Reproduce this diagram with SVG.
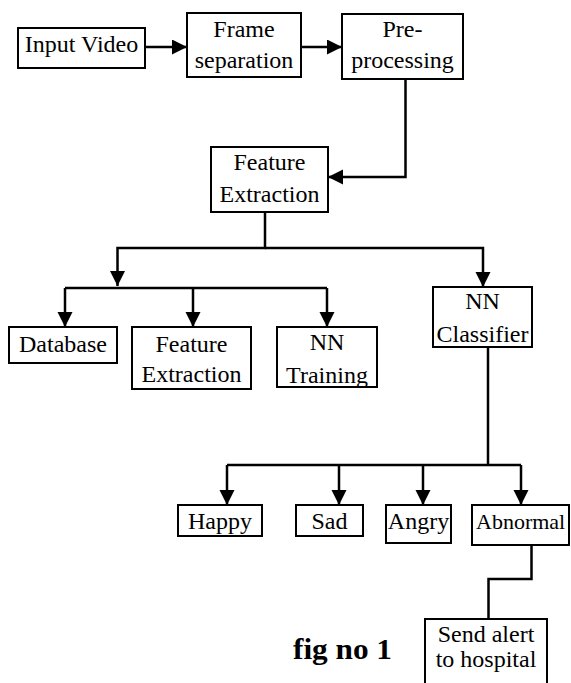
<svg xmlns="http://www.w3.org/2000/svg" width="571" height="683" viewBox="0 0 571 683">
<style>
.box{fill:#fff;stroke:#000;stroke-width:2}
.t{font-family:"Liberation Serif","Times New Roman",serif;font-size:24px;fill:#000;text-anchor:middle}
.c{fill:none;stroke:#000;stroke-width:2.5}
</style>
<defs>
<marker id="ah" markerUnits="userSpaceOnUse" markerWidth="16" markerHeight="16" refX="15" refY="7.5" orient="auto">
<path d="M0,0 L15,7.5 L0,15 z" fill="#000"/>
</marker>
</defs>
<rect width="571" height="683" fill="#fff"/>
<g id="connectors">
<path class="c" d="M145,47 H187" marker-end="url(#ah)"/>
<path class="c" d="M301,47 H342" marker-end="url(#ah)"/>
<path class="c" d="M405.5,79 V177 H328" marker-end="url(#ah)"/>
<path class="c" d="M265,212 V248 H117.5 V286" marker-end="url(#ah)"/>
<path class="c" d="M265,248 H483 V287" marker-end="url(#ah)"/>
<path class="c" d="M65,288 H327"/>
<path class="c" d="M65,288 V327" marker-end="url(#ah)"/>
<path class="c" d="M193,288 V327" marker-end="url(#ah)"/>
<path class="c" d="M327,288 V327" marker-end="url(#ah)"/>
<path class="c" d="M488,347 V465"/>
<path class="c" d="M227,465 H521"/>
<path class="c" d="M227,465 V505" marker-end="url(#ah)"/>
<path class="c" d="M339,465 V505" marker-end="url(#ah)"/>
<path class="c" d="M423,465 V505" marker-end="url(#ah)"/>
<path class="c" d="M521,465 V505" marker-end="url(#ah)"/>
<path class="c" d="M531.5,545 V579 H488.5 V619"/>
</g>
<g id="input-video"><rect class="box" x="18" y="28" width="127" height="40"/><text class="t" x="81.5" y="52">Input Video</text></g>
<g id="frame-separation"><rect class="box" x="187" y="13" width="114" height="64"/><text class="t" x="244" y="37">Frame</text><text class="t" x="244" y="68">separation</text></g>
<g id="pre-processing"><rect class="box" x="342" y="14" width="121" height="65"/><text class="t" x="402.5" y="37">Pre-</text><text class="t" x="402.5" y="68">processing</text></g>
<g id="feature-extraction"><rect class="box" x="211" y="147" width="117" height="65"/><text class="t" x="269.5" y="170">Feature</text><text class="t" x="269.5" y="202">Extraction</text></g>
<g id="database"><rect class="box" x="9" y="327" width="108" height="36"/><text class="t" x="63" y="352">Database</text></g>
<g id="feature-extraction-2"><rect class="box" x="132" y="327" width="119" height="62"/><text class="t" x="191.5" y="352">Feature</text><text class="t" x="191.5" y="382">Extraction</text></g>
<g id="nn-training"><rect class="box" x="277" y="327" width="100" height="60"/><text class="t" x="327" y="350">NN</text><text class="t" x="327" y="383">Training</text></g>
<g id="nn-classifier"><rect class="box" x="433" y="287" width="99" height="60"/><text class="t" x="482.5" y="309">NN</text><text class="t" x="482.5" y="342">Classifier</text></g>
<g id="happy"><rect class="box" x="178" y="505" width="84" height="31"/><text class="t" x="220" y="529">Happy</text></g>
<g id="sad"><rect class="box" x="296" y="505" width="67" height="31"/><text class="t" x="329.5" y="529">Sad</text></g>
<g id="angry"><rect class="box" x="386" y="505" width="65" height="38"/><text class="t" x="418.5" y="529">Angry</text></g>
<g id="abnormal"><rect class="box" x="472" y="505" width="97" height="40"/><text class="t" x="476" y="529" style="text-anchor:start;font-size:22px">Abnormal</text></g>
<g id="send-alert"><rect class="box" x="425" y="619" width="122" height="75"/><text class="t" x="486" y="642">Send alert</text><text class="t" x="486" y="667">to hospital</text></g>
<g id="caption"><text x="293" y="659" font-family="'Liberation Serif','Times New Roman',serif" font-size="30" font-weight="bold" textLength="99" lengthAdjust="spacingAndGlyphs">fig no 1</text></g>
</svg>
